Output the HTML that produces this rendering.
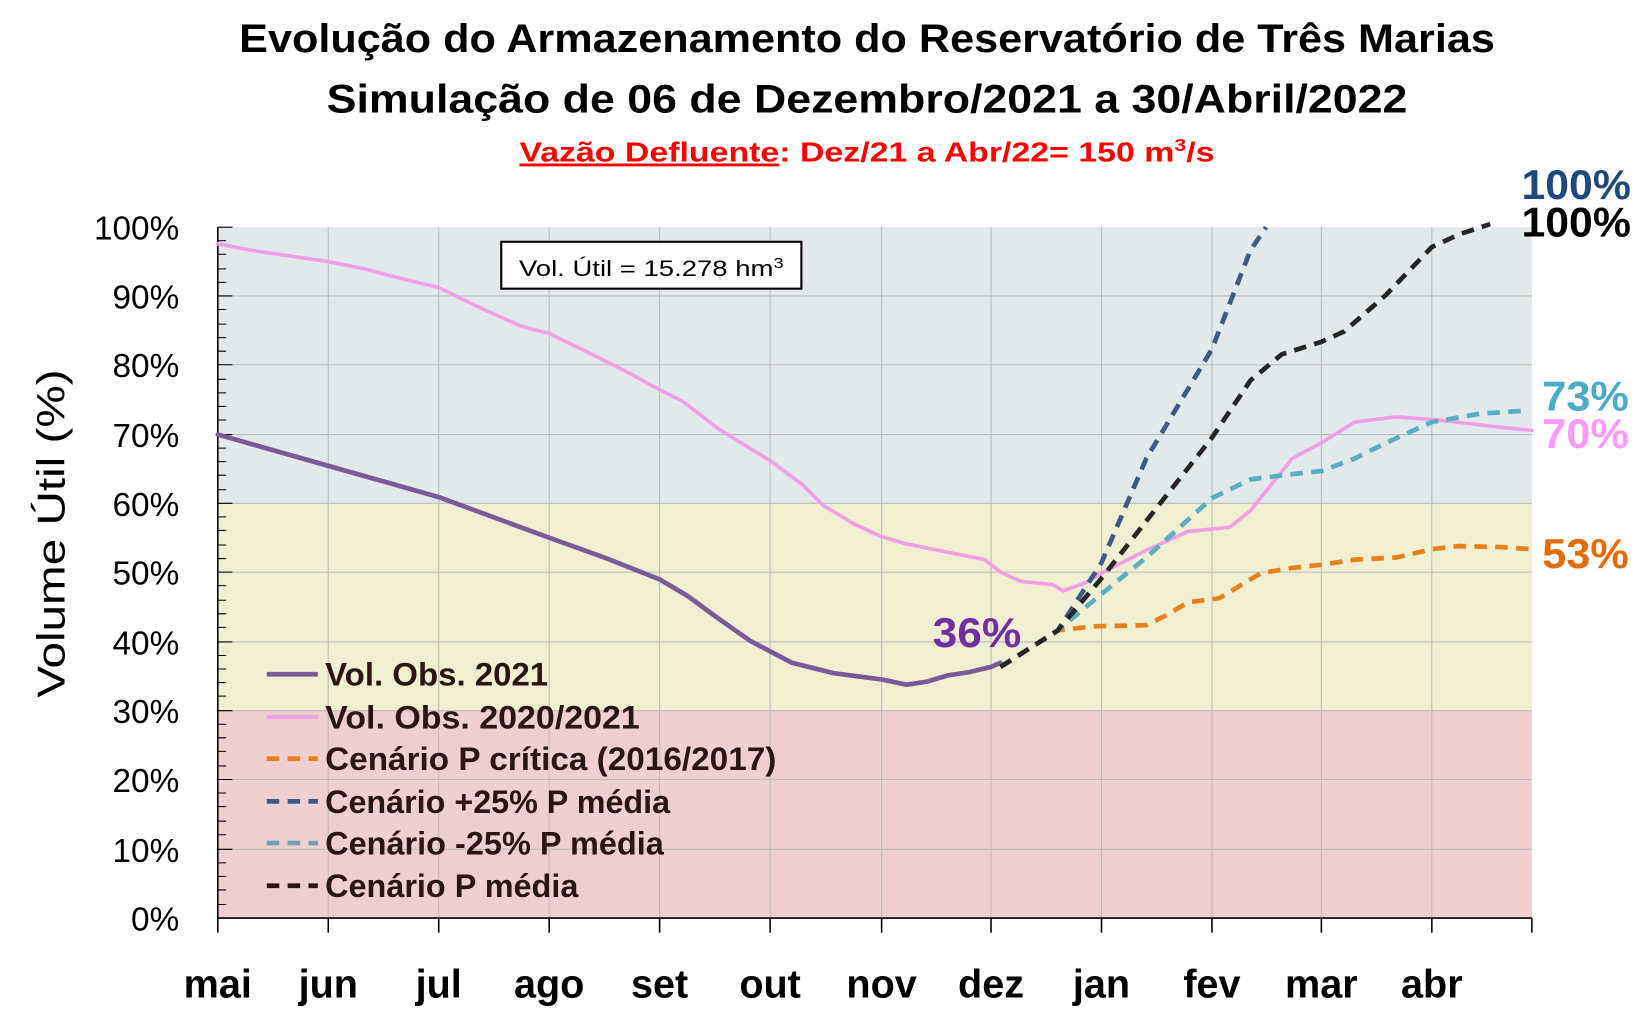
<!DOCTYPE html>
<html><head><meta charset="utf-8"><style>html,body{margin:0;padding:0;background:#fff}svg{display:block}</style></head>
<body>
<svg width="1634" height="1015" viewBox="0 0 1568 974" preserveAspectRatio="none" xmlns="http://www.w3.org/2000/svg" font-family="Liberation Sans, sans-serif">
<!-- titles -->
<text x="832" y="50" text-anchor="middle" font-size="38" font-weight="bold" textLength="1205" lengthAdjust="spacingAndGlyphs">Evolução do Armazenamento do Reservatório de Três Marias</text>
<text x="832" y="108" text-anchor="middle" font-size="38" font-weight="bold" textLength="1037" lengthAdjust="spacingAndGlyphs">Simulação de 06 de Dezembro/2021 a 30/Abril/2022</text>
<text x="832" y="155" text-anchor="middle" font-size="27" font-weight="bold" fill="#ff0000" textLength="667" lengthAdjust="spacingAndGlyphs"><tspan text-decoration="underline">Vazão Defluente</tspan>: Dez/21 a Abr/22= 150 m<tspan font-size="17" dy="-10">3</tspan><tspan dy="10">/s</tspan></text>
<!-- bands -->
<rect x="209" y="218" width="1261" height="265" fill="#e1e9eb"/>
<rect x="209" y="483" width="1261" height="199" fill="#f0efd1"/>
<rect x="209" y="682" width="1261" height="199" fill="#efcfcf"/>
<!-- grid -->
<g stroke="#bcbcbc" stroke-width="1">
<line x1="209" y1="284" x2="1470" y2="284"/><line x1="209" y1="350" x2="1470" y2="350"/><line x1="209" y1="417" x2="1470" y2="417"/><line x1="209" y1="483" x2="1470" y2="483"/><line x1="209" y1="549" x2="1470" y2="549"/><line x1="209" y1="616" x2="1470" y2="616"/><line x1="209" y1="682" x2="1470" y2="682"/><line x1="209" y1="748" x2="1470" y2="748"/><line x1="209" y1="815" x2="1470" y2="815"/>
<line x1="315" y1="218" x2="315" y2="881"/><line x1="421" y1="218" x2="421" y2="881"/><line x1="527" y1="218" x2="527" y2="881"/><line x1="633" y1="218" x2="633" y2="881"/><line x1="739" y1="218" x2="739" y2="881"/><line x1="846" y1="218" x2="846" y2="881"/><line x1="951" y1="218" x2="951" y2="881"/><line x1="1057" y1="218" x2="1057" y2="881"/><line x1="1163" y1="218" x2="1163" y2="881"/><line x1="1268" y1="218" x2="1268" y2="881"/><line x1="1374" y1="218" x2="1374" y2="881"/>
</g>
<!-- axes -->
<g stroke="#000" stroke-width="1.5">
<line x1="209" y1="218" x2="209" y2="895"/><line x1="209" y1="881" x2="1470" y2="881"/>
<line x1="315" y1="881" x2="315" y2="895"/><line x1="421" y1="881" x2="421" y2="895"/><line x1="527" y1="881" x2="527" y2="895"/><line x1="633" y1="881" x2="633" y2="895"/><line x1="739" y1="881" x2="739" y2="895"/><line x1="846" y1="881" x2="846" y2="895"/><line x1="951" y1="881" x2="951" y2="895"/><line x1="1057" y1="881" x2="1057" y2="895"/><line x1="1163" y1="881" x2="1163" y2="895"/><line x1="1268" y1="881" x2="1268" y2="895"/><line x1="1374" y1="881" x2="1374" y2="895"/><line x1="1470" y1="881" x2="1470" y2="895"/>
</g>
<path stroke="#000" stroke-width="1" d="M209 218h14M209 231h8M209 244h8M209 258h8M209 271h8M209 284h14M209 297h8M209 311h8M209 324h8M209 337h8M209 350h14M209 364h8M209 377h8M209 390h8M209 403h8M209 417h14M209 430h8M209 443h8M209 456h8M209 470h8M209 483h14M209 496h8M209 509h8M209 523h8M209 536h8M209 549h14M209 562h8M209 576h8M209 589h8M209 602h8M209 616h14M209 629h8M209 642h8M209 655h8M209 668h8M209 682h14M209 695h8M209 708h8M209 721h8M209 735h8M209 748h14M209 761h8M209 774h8M209 788h8M209 801h8M209 815h14M209 828h8M209 841h8M209 854h8M209 868h8"/>
<!-- y labels -->
<g font-size="32" text-anchor="end">
<text x="172" y="230">100%</text><text x="172" y="296">90%</text><text x="172" y="362">80%</text><text x="172" y="429">70%</text><text x="172" y="495">60%</text><text x="172" y="561">50%</text><text x="172" y="628">40%</text><text x="172" y="694">30%</text><text x="172" y="760">20%</text><text x="172" y="827">10%</text><text x="172" y="893">0%</text>
</g>
<text transform="translate(62,512) rotate(-90)" text-anchor="middle" font-size="37" textLength="315" lengthAdjust="spacingAndGlyphs">Volume  Útil (%)</text>
<!-- x labels -->
<g font-size="38" font-weight="bold" text-anchor="middle">
<text x="209" y="957">mai</text><text x="315" y="957">jun</text><text x="421" y="957">jul</text><text x="527" y="957">ago</text><text x="633" y="957">set</text><text x="739" y="957">out</text><text x="846" y="957">nov</text><text x="951" y="957">dez</text><text x="1057" y="957">jan</text><text x="1163" y="957">fev</text><text x="1268" y="957">mar</text><text x="1374" y="957">abr</text>
</g>
<!-- box -->
<rect x="481" y="232" width="288" height="45" fill="#fff" stroke="#000" stroke-width="2"/>
<text x="498" y="265" font-size="21" textLength="254" lengthAdjust="spacingAndGlyphs">Vol. Útil  = 15.278 hm<tspan font-size="14" dy="-8">3</tspan></text>
<!-- series -->
<g fill="none" stroke-linejoin="round" stroke-linecap="round">
<polyline stroke="#f0a0e6" stroke-width="3.5" points="209,234 240,240 280,246 315,251 350,258 380,266 421,276 460,295 500,313 527,320 560,336 600,356 633,374 655,385 690,412 739,442 770,465 790,485 820,503 846,515 870,522 900,528 945,537 960,549 980,558 1010,561 1020,567 1040,560 1057,550 1100,528 1140,510 1180,506 1200,490 1240,440 1268,425 1300,405 1340,400 1380,403 1440,410 1470,413"/>
<polyline stroke="#7b5a9a" stroke-width="4.5" points="209,417 315,447 421,477 527,516 580,535 633,556 660,572 690,594 720,615 739,625 760,636 800,646 846,652 870,657 890,654 910,648 930,645 951,640 960,636"/>
<g stroke-width="4.5" stroke-dasharray="12 8" stroke-linecap="butt">
<polyline stroke="#e8801e" points="960,640 1015,605 1050,601 1100,600 1120,590 1140,578 1170,574 1180,568 1210,550 1240,545 1268,542 1300,537 1340,535 1374,527 1400,524 1440,525 1470,527"/>
<polyline stroke="#5aaec4" points="960,640 1015,605 1057,570 1100,535 1163,478 1200,460 1240,455 1268,452 1300,440 1330,425 1374,405 1420,397 1465,394"/>
<polyline stroke="#3e5a86" points="960,640 1015,605 1057,540 1100,440 1163,335 1200,240 1215,218"/>
<polyline stroke="#262626" points="960,640 1015,605 1057,555 1100,500 1163,420 1200,365 1230,340 1268,328 1290,318 1330,283 1374,237 1400,225 1430,215"/>
</g>
</g>
<!-- legend -->
<g font-size="31" font-weight="bold" fill="#2b1515">
<line x1="256" y1="647" x2="305" y2="647" stroke="#7b5a9a" stroke-width="4.5"/><text x="312" y="658" textLength="214" lengthAdjust="spacingAndGlyphs">Vol. Obs. 2021</text>
<line x1="256" y1="688" x2="305" y2="688" stroke="#f0a0e6" stroke-width="3.5"/><text x="312" y="699" textLength="302" lengthAdjust="spacingAndGlyphs">Vol. Obs. 2020/2021</text>
<line x1="256" y1="728" x2="305" y2="728" stroke="#e8801e" stroke-width="4.5" stroke-dasharray="12 8"/><text x="312" y="739" textLength="433" lengthAdjust="spacingAndGlyphs">Cenário P crítica (2016/2017)</text>
<line x1="256" y1="769" x2="305" y2="769" stroke="#3e5a86" stroke-width="4.5" stroke-dasharray="12 8"/><text x="312" y="780" textLength="331" lengthAdjust="spacingAndGlyphs">Cenário +25% P média</text>
<line x1="256" y1="809" x2="305" y2="809" stroke="#6f9fb3" stroke-width="4.5" stroke-dasharray="12 8"/><text x="312" y="820" textLength="325" lengthAdjust="spacingAndGlyphs">Cenário -25% P média</text>
<line x1="256" y1="850" x2="305" y2="850" stroke="#2b1515" stroke-width="4.5" stroke-dasharray="12 8"/><text x="312" y="861" textLength="243" lengthAdjust="spacingAndGlyphs">Cenário P média</text>
</g>
<!-- value labels -->
<g font-size="40" font-weight="bold">
<text x="895" y="621" fill="#7030a0" textLength="85" lengthAdjust="spacingAndGlyphs">36%</text>
<text x="1460" y="191" fill="#1f497d" textLength="105" lengthAdjust="spacingAndGlyphs">100%</text>
<text x="1460" y="227" fill="#000" textLength="105" lengthAdjust="spacingAndGlyphs">100%</text>
<text x="1480" y="394" fill="#4bacc6" textLength="83" lengthAdjust="spacingAndGlyphs">73%</text>
<text x="1480" y="430" fill="#ff99ff" textLength="83" lengthAdjust="spacingAndGlyphs">70%</text>
<text x="1480" y="545" fill="#e36c09" textLength="83" lengthAdjust="spacingAndGlyphs">53%</text>
</g>
</svg>
</body></html>
